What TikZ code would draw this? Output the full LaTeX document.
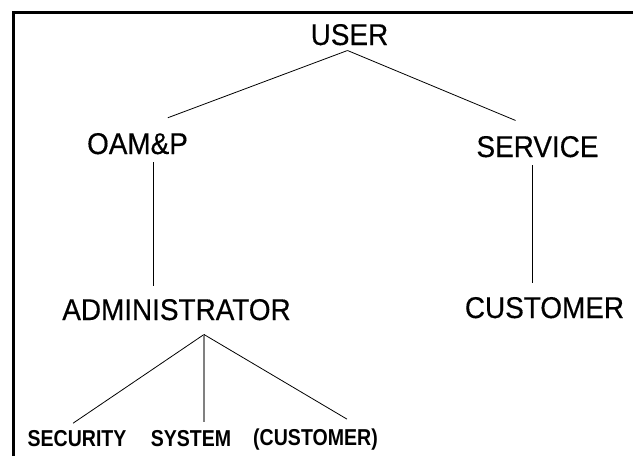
\documentclass[tikz,border=0pt]{standalone}
\usepackage{fontspec}
\usepackage{tikz}
\newfontfamily\bigfont[FakeStretch=0.93, FakeBold=0.4]{Liberation Sans}
\newfontfamily\smallfont[FakeStretch=0.85]{Liberation Sans}
\tikzset{%
  % Specifications for style of nodes:
         base/.style = {inner sep=0pt, anchor=base, text=black},
     topLevel/.style = {base, font=\bigfont\fontsize{30}{30}\selectfont},
    leafLevel/.style = {base, font=\smallfont\bfseries\fontsize{23}{23}\selectfont},
  % Specifications for style of lines:
       branch/.style = {draw=black, line width=0.8pt},
    midBranch/.style = {draw=black!50, line width=1.3pt},
}

\begin{document}
\begin{tikzpicture}[x=1pt, y=-1pt]
                    \useasboundingbox[fill=white] (0,0) rectangle (633,456);
                    \draw[line width=3pt] (13,456) -- (13,12) -- (633,12);

                    \node (user)      [topLevel]  at (349.5,45)  {USER};
                    \node (oamp)      [topLevel]  at (137.5,154) {OAM\&P};
                    \node (service)   [topLevel]  at (537.5,157) {SERVICE};
                    \node (admin)     [topLevel]  at (176.5,320) {ADMINISTRATOR};
                    \node (customer)  [topLevel]  at (544.5,318) {CUSTOMER};
                    \node (security)  [leafLevel] at (77,446)    {SECURITY};
                    \node (system)    [leafLevel] at (191,446)   {SYSTEM};
                    \node (custpar)   [leafLevel] at (315.5,445) {(CUSTOMER)};
                    \coordinate (fork) at ([xshift=27.5pt,yshift=-14pt]admin.south);

                    \draw[branch, shorten >=43pt] ([xshift=-2pt,yshift=-5pt]user.south) -- ([xshift=-10pt]oamp.north);
                    \draw[branch, shorten >=40pt] ([xshift=-2pt,yshift=-5pt]user.south) -- ([xshift=15pt]service.north);
                    \draw[branch] ([xshift=15.5pt,yshift=-8pt]oamp.south) -- ([xshift=-23.5pt,yshift=13pt]admin.north);
                    \draw[branch] ([xshift=-5.5pt,yshift=-8pt]service.south) -- ([xshift=-12.5pt,yshift=14pt]customer.north);
                    \draw[branch] (fork) -- ([xshift=-4pt,yshift=6.5pt]security.north);
                    \draw[midBranch] (fork) -- ([xshift=13pt,yshift=7.5pt]system.north);
                    \draw[branch] (fork) -- ([xshift=31.5pt,yshift=9pt]custpar.north);
                \end{tikzpicture}
\end{document}
